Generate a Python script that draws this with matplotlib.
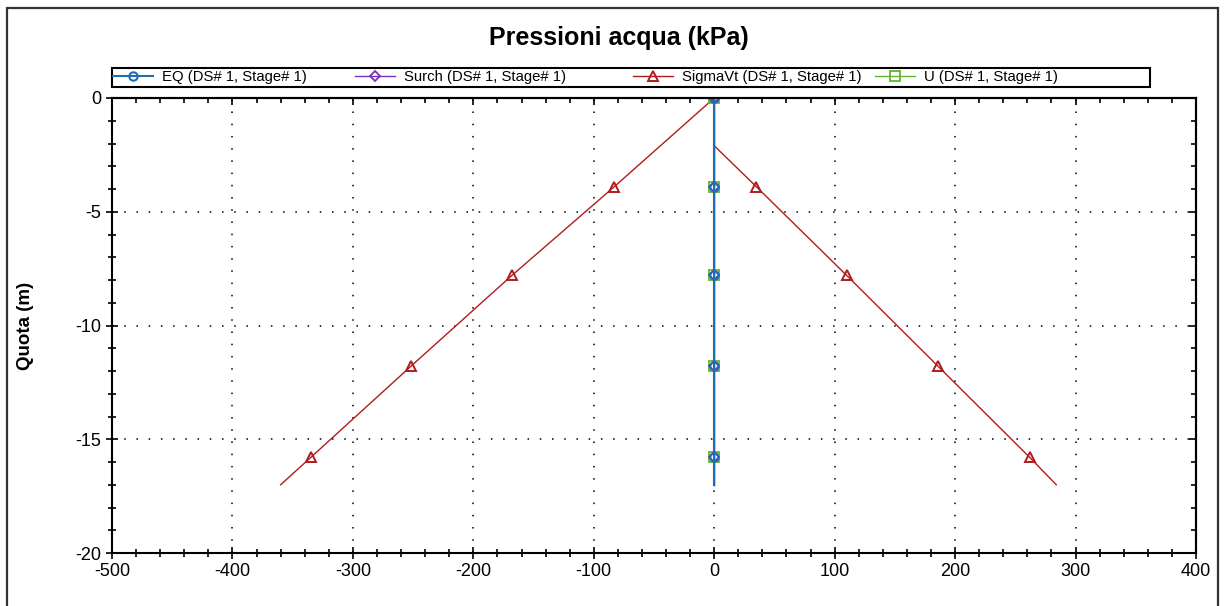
import matplotlib
matplotlib.use('Agg')
import matplotlib.pyplot as plt
from matplotlib.ticker import MultipleLocator
from matplotlib.patches import Rectangle

# depths (m) and pressures (kPa)
depth_eq = [0.0, -3.9, -7.8, -11.8, -15.8, -17.0]
eq = [0, 0, 0, 0, 0, 0]
surch = [0, 0, 0, 0, 0, 0]
u = [0, 0, 0, 0, 0, 0]

depth_sigma = [-17.0, -15.8, -11.8, -7.8, -3.9, 0.0, -2.1, -3.9, -7.8, -11.8, -15.8, -17.0]
sigma_vt = [-360, -335, -252, -168, -83, 0, 0, 35, 110, 186, 262, 284]

labels = ['EQ (DS# 1, Stage# 1)', 'Surch (DS# 1, Stage# 1)',
          'SigmaVt (DS# 1, Stage# 1)', 'U (DS# 1, Stage# 1)']

plt.rcParams['font.family'] = ['Liberation Sans', 'DejaVu Sans']
plt.rcParams['axes.unicode_minus'] = False

W, H = 1227, 606
fig = plt.figure(figsize=(W / 100, H / 100), dpi=100)
ax = fig.add_axes([112 / W, 1 - 553 / H, (1196 - 112) / W, (553 - 98) / H])

c_eq = '#1f6db5'
c_su = '#7a2fc0'
c_sv = '#b01c1c'
c_u = '#66b32e'

l_sv, = ax.plot(sigma_vt, depth_sigma, color=c_sv, lw=1.0, marker='^', ms=7,
                mfc='none', mec=c_sv, mew=1.4, markevery=[1, 2, 3, 4, 7, 8, 9, 10],
                label=labels[2])
l_u, = ax.plot(u, depth_eq, color=c_u, lw=1.0, marker='s', ms=7, mfc='none',
               mec=c_u, mew=1.3, markevery=[0, 1, 2, 3, 4], label=labels[3])
l_su, = ax.plot(surch, depth_eq, color=c_su, lw=1.0, marker='D', ms=5, mfc='none',
                mec=c_su, mew=1.3, markevery=[0, 1, 2, 3, 4], label=labels[1])
l_eq, = ax.plot(eq, depth_eq, color=c_eq, lw=1.5, marker='o', ms=6, mfc='none',
                mec=c_eq, mew=1.5, markevery=[0, 1, 2, 3, 4], label=labels[0])

ax.set_xlim(-500, 400)
ax.set_ylim(-20, 0)
ax.xaxis.set_major_locator(MultipleLocator(100))
ax.xaxis.set_minor_locator(MultipleLocator(20))
ax.yaxis.set_major_locator(MultipleLocator(5))
ax.yaxis.set_minor_locator(MultipleLocator(1))
ax.tick_params(which='both', direction='inout', top=False, right=False,
               width=1.2, labelsize=13, colors='black')
ax.tick_params(which='major', length=9, pad=3)
ax.tick_params(which='minor', length=6)
for s in ax.spines.values():
    s.set_linewidth(1.5)

ax.grid(True, which='major', color='black', lw=1.1, linestyle=(0, (1, 7.0)))

# inward ticks on top and right
top = ax.secondary_xaxis('top')
top.xaxis.set_major_locator(MultipleLocator(100))
top.xaxis.set_minor_locator(MultipleLocator(20))
top.tick_params(which='both', direction='in', labeltop=False, width=1.2)
top.tick_params(which='major', length=5)
top.tick_params(which='minor', length=3.5)
top.spines['top'].set_linewidth(1.5)
right = ax.secondary_yaxis('right')
right.yaxis.set_major_locator(MultipleLocator(5))
right.yaxis.set_minor_locator(MultipleLocator(1))
right.tick_params(which='both', direction='in', labelright=False, width=1.2)
right.tick_params(which='major', length=5)
right.tick_params(which='minor', length=3.5)
right.spines['right'].set_linewidth(1.5)

ax.set_ylabel('Quota (m)', fontsize=13.5, fontweight='bold')
ax.yaxis.set_label_coords(-(112 - 34) / (1196 - 112), 0.5)

fig.text(619 / W, 1 - 38 / H, 'Pressioni acqua (kPa)', ha='center', va='center',
         fontsize=18, fontweight='bold')

# legend: framed strip above the plot, entries at fixed positions
fig.patches.append(Rectangle((112 / W, 1 - 87 / H), (1150 - 112) / W, 19 / H,
                             transform=fig.transFigure, fill=False,
                             edgecolor='black', linewidth=1.5))
entry_x = [113, 355, 633, 875]
for h, lab, x in zip([l_eq, l_su, l_sv, l_u], labels, entry_x):
    fig.legend([h], [lab], loc='center left',
               bbox_to_anchor=(x / W, 1 - 77.5 / H), fontsize=10.7,
               frameon=False, borderpad=0, borderaxespad=0,
               handlelength=2.7, handletextpad=0.6)

fig.patches.append(Rectangle((7 / W, -0.1), (1218 - 7) / W, 0.1 + 1 - 8 / H,
                             transform=fig.transFigure, fill=False,
                             edgecolor='#333333', linewidth=1.6))

fig.savefig('out.png', dpi=100)
